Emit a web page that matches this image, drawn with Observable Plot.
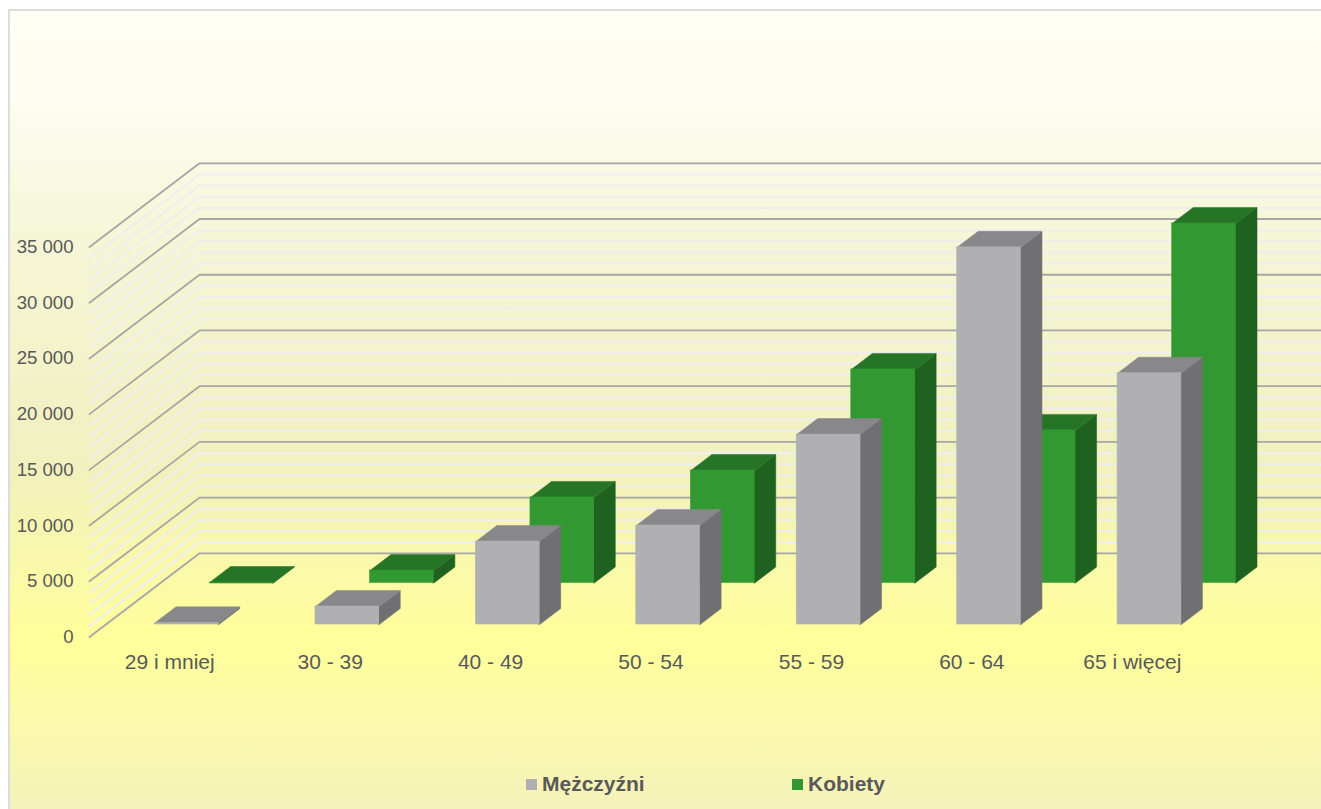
<!DOCTYPE html>
<html lang="pl">
<head>
<meta charset="utf-8">
<script src="https://cdn.jsdelivr.net/npm/d3@7"></script>
<script src="https://cdn.jsdelivr.net/npm/@observablehq/plot@0.6"></script>
<style>
html,body{margin:0;padding:0;background:#fff;overflow:hidden;}
#frame{position:relative;width:1321px;height:809px;overflow:hidden;font-family:"Liberation Sans",Arial,sans-serif;}
#panel{position:absolute;left:8px;top:9px;width:1330px;height:820px;box-sizing:border-box;border:2px solid #dcdcd8;
background:linear-gradient(180deg,#fefef5 0px,#fdfdf1 90px,#f6f6d8 220px,#f1f0bf 450px,#ffff9b 630px,#fbfaa9 700px,#f4f2bb 800px);}
#chart{position:absolute;left:0;top:0;}
#legend{position:absolute;left:0;top:760px;width:1321px;height:49px;color:#595959;font-weight:bold;font-size:21px;}
#legend .sw{position:absolute;top:19px;width:11px;height:11px;}
#legend .lb{position:absolute;top:12px;line-height:24px;white-space:nowrap;}
</style>
</head>
<body>
<div id="frame"><div id="panel"></div><div id="chart"></div><div id="legend"></div></div>
<script>
// Data
const categories = ["29 i mniej", "30 - 39", "40 - 49", "50 - 54", "55 - 59", "60 - 64", "65 i więcej"];
const menValues = [150, 1620, 7450, 8890, 17050, 33850, 22550];
const womenValues = [50, 1120, 7680, 10100, 19170, 13700, 32270];
const majorTicks = [0, 5000, 10000, 15000, 20000, 25000, 30000, 35000];
const minorTicks = d3.range(0, 35000, 1000).filter(v => v % 5000 !== 0);
const legendNames = ["Mężczyźni", "Kobiety"];

// Oblique projection of the 3D chart: depth z (0 front, 1 back) moves a point along the floor
const depthX = 0.686, depthV = 7511, wallEnd = 7.69;
const barStart = 0.306, barWidth = 0.398;
const seamX = 0.006, seamV = 60; // side and top faces tuck under the front face so no seam shows
const project = (x, v, z) => [x + z * depthX, v + z * depthV];

const spaceFormat = d3.formatLocale({decimal: ",", thousands: " ", grouping: [3], currency: ["", ""]}).format(",");

const pt = ([x, y]) => ({x, y});
function gridRows(values) {
  return values.flatMap(v => [
    {id: v, ...pt(project(0, v, 0))},
    {id: v, ...pt(project(0, v, 1))},
    {id: v, x: wallEnd, y: v + depthV}
  ]);
}

function barMarks(values, z0, z1, colors) {
  const front = [], side = [], top = [];
  values.forEach((value, i) => {
    const xa = i + barStart, xb = xa + barWidth;
    const [fx1, fy0] = project(xa, 0, z0);
    const [fx2, fy1] = project(xb, value, z0);
    front.push({category: categories[i], value, x1: fx1, x2: fx2, y1: fy0, y2: fy1});
    [[xb - seamX, 0, z0], [xb, 0, z0], [xb, 0, z1], [xb, value, z1], [xb, value, z0], [xb - seamX, value, z0]]
      .forEach(p => side.push({id: i, ...pt(project(...p))}));
    [[xa, Math.max(0, value - seamV), z0], [xb, Math.max(0, value - seamV), z0], [xb, value, z0], [xb, value, z1], [xa, value, z1], [xa, value, z0]]
      .forEach(p => top.push({id: i, ...pt(project(...p))}));
  });
  const poly = (rows, fill) => Plot.line(rows, {x: "x", y: "y", z: "id", fill, stroke: fill, strokeWidth: 0.5, curve: "linear"});
  return [
    poly(side, colors.side),
    poly(top, colors.top),
    Plot.rect(front, {x1: "x1", x2: "x2", y1: "y1", y2: "y2", fill: colors.front, stroke: colors.front, strokeWidth: 0.5})
  ];
}

const plot = Plot.plot({
  width: 1321, height: 760,
  marginLeft: 89, marginRight: 109, marginTop: 246.5, marginBottom: 123.5,
  x: {domain: [0, 7], axis: null},
  y: {domain: [0, 35000], axis: null},
  style: {background: "transparent", color: "#595959", fontFamily: "'Liberation Sans', Arial, sans-serif", overflow: "visible"},
  marks: [
    Plot.line(gridRows(minorTicks), {x: "x", y: "y", z: "id", stroke: "#eeeeee", strokeWidth: 2}),
    Plot.line(gridRows(majorTicks), {x: "x", y: "y", z: "id", stroke: "#a6a6a6", strokeWidth: 1.8}),
    ...barMarks(womenValues, 0.645, 0.836, {front: "#329932", side: "#1f6220", top: "#267526"}),
    ...barMarks(menValues, 0.149, 0.34, {front: "#b0b0b2", side: "#707072", top: "#888789"}),
    Plot.axisY(majorTicks, {anchor: "left", tickSize: 0, tickPadding: 16, fontSize: 18.6, tickFormat: spaceFormat, label: null}),
    Plot.axisX(categories.map((c, i) => i + 0.5), {anchor: "bottom", tickSize: 0, tickPadding: 17, fontSize: 21, tickFormat: d => categories[Math.floor(d)], label: null})
  ]
});
document.getElementById("chart").appendChild(plot);

const legend = document.getElementById("legend");
[[legendNames[0], "#b0b0b2", 526, 542], [legendNames[1], "#329932", 792, 808]].forEach(([name, color, sx, tx]) => {
  const s = document.createElement("div"); s.className = "sw"; s.style.left = sx + "px"; s.style.background = color;
  const t = document.createElement("div"); t.className = "lb"; t.style.left = tx + "px"; t.textContent = name;
  legend.append(s, t);
});
</script>
</body>
</html>
